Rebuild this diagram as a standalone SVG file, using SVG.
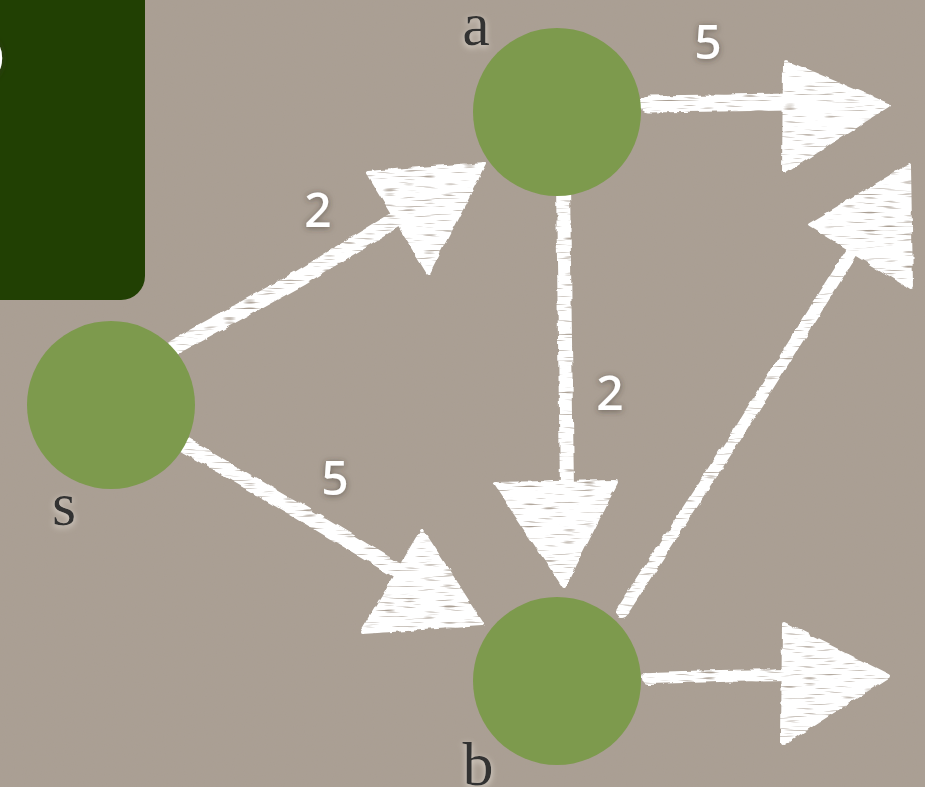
<svg xmlns="http://www.w3.org/2000/svg" width="925" height="787" viewBox="0 0 925 787">
<defs>
<filter id="paper" x="0" y="0" width="100%" height="100%">
<feTurbulence type="fractalNoise" baseFrequency="0.9" numOctaves="2" seed="3" result="n"/>
<feColorMatrix in="n" type="matrix" values="0 0 0 0 0.35  0 0 0 0 0.31  0 0 0 0 0.27  0 0 0 0.25 0" result="c"/>
<feComposite in="c" in2="SourceGraphic" operator="in" result="t"/>
<feMerge><feMergeNode in="SourceGraphic"/><feMergeNode in="t"/></feMerge>
</filter>
<filter id="chalk" x="-20%" y="-20%" width="140%" height="140%">
<feTurbulence type="fractalNoise" baseFrequency="0.09" numOctaves="2" seed="7" result="t"/>
<feDisplacementMap in="SourceGraphic" in2="t" scale="5" xChannelSelector="R" yChannelSelector="G" result="d"/>
<feTurbulence type="fractalNoise" baseFrequency="0.05 0.5" numOctaves="1" seed="11" result="s"/>
<feColorMatrix in="s" type="matrix" values="0 0 0 0 1  0 0 0 0 1  0 0 0 0 1  0 0 0 -5 4.0" result="m"/>
<feComposite in="d" in2="m" operator="in"/>
</filter>
<filter id="darkglow" x="-50%" y="-50%" width="200%" height="200%">
<feGaussianBlur in="SourceAlpha" stdDeviation="3"/>
<feOffset dx="0" dy="1" result="b"/>
<feFlood flood-color="#3a332c" flood-opacity="0.6"/>
<feComposite in2="b" operator="in" result="sh"/>
<feMerge><feMergeNode in="sh"/><feMergeNode in="SourceGraphic"/></feMerge>
</filter>
<filter id="lightglow" x="-50%" y="-50%" width="200%" height="200%">
<feGaussianBlur in="SourceAlpha" stdDeviation="3"/>
<feOffset dx="0" dy="2" result="b"/>
<feFlood flood-color="#f4efe8" flood-opacity="0.7"/>
<feComposite in2="b" operator="in" result="sh"/>
<feMerge><feMergeNode in="sh"/><feMergeNode in="SourceGraphic"/></feMerge>
</filter>
</defs>
<style>
.node{fill:#7d9a4d}
.shaft{stroke:#ffffff;fill:none;stroke-linecap:round}
.head{fill:#ffffff;stroke:#ffffff;stroke-width:4;stroke-linejoin:round}
.nlabel{font-family:"Liberation Serif","DejaVu Serif",serif;font-size:62px;fill:#333230;text-anchor:middle}
.elabel{font-family:"Noto Sans","Open Sans",sans-serif;font-size:48px;font-weight:500;fill:#ffffff;text-anchor:middle}
</style>
<rect x="0" y="0" width="925" height="787" fill="#aca094" filter="url(#paper)"/>
<g id="titlebox">
<rect x="-40" y="-40" width="185" height="340" rx="24" fill="#214003"/>
<text x="6" y="80" font-family="Noto Sans, sans-serif" font-size="62" fill="#ffffff" text-anchor="end" filter="url(#darkglow)">O</text>
</g>
<g id="connectors" filter="url(#chalk)">
<g id="e-s-a">
<path class="shaft" d="M175,347 L300,278 L408,212" stroke-width="16"/>
<polygon class="head" points="368,173 484,164 428,272"/>
</g>
<g id="e-s-b">
<path class="shaft" d="M178,441 L300,512 L405,575" stroke-width="15"/>
<polygon class="head" points="422,531 482,624 362,632"/>
</g>
<g id="e-a-b">
<path class="shaft" d="M563,182 L565,340 L567,490" stroke-width="14"/>
<polygon class="head" points="496,484 616,482 564,586"/>
</g>
<g id="e-a-out">
<path class="shaft" d="M648,104 L720,103 L790,102" stroke-width="17"/>
<polygon class="head" points="785,62 888,105 784,172"/>
</g>
<g id="e-b-out2">
<path class="shaft" d="M622,612 L740,430 L852,252" stroke-width="12"/>
<polygon class="head" points="810,225 909,166 911,287"/>
</g>
<g id="e-b-out">
<path class="shaft" d="M648,678 L720,676 L790,675" stroke-width="12"/>
<polygon class="head" points="784,624 888,676 783,743"/>
</g>
</g>
<g id="node-a">
<circle class="node" cx="557" cy="112" r="84"/>
<text class="nlabel" x="476" y="45" filter="url(#lightglow)">a</text>
</g>
<g id="node-s">
<circle class="node" cx="111" cy="405" r="84"/>
<text class="nlabel" x="64" y="525" filter="url(#lightglow)">s</text>
</g>
<g id="node-b">
<circle class="node" cx="557" cy="681" r="84"/>
<text class="nlabel" x="478" y="785" filter="url(#lightglow)">b</text>
</g>
<g id="edge-labels" filter="url(#darkglow)">
<text class="elabel" x="318" y="227">2</text>
<text class="elabel" x="335" y="495">5</text>
<text class="elabel" x="610" y="410">2</text>
<text class="elabel" x="708" y="59">5</text>
</g>
</svg>
